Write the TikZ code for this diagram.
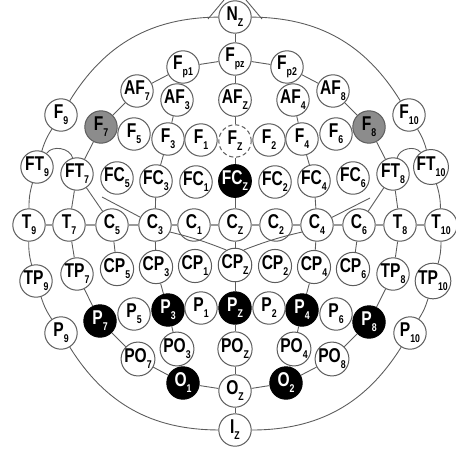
\documentclass[tikz,border=0pt]{standalone}
\usepackage{fontspec,xcolor}
\setmainfont{Liberation Sans}[FakeStretch=0.78]
\definecolor{edge}{HTML}{5C5C5C}
\definecolor{rowline}{HTML}{9A9A9A}
\definecolor{midgrey}{HTML}{8C8C8C}
\newcommand{\elec}{\fontsize{14.2}{15}\selectfont\bfseries}
\newcommand{\elecsub}{\fontsize{8}{9}\selectfont\bfseries}
\newcommand{\low}[1]{\raisebox{-1.5mm}{\elecsub #1}}
\tikzset{
  cell/.style={circle,draw=edge,line width=0.25mm,fill=white,inner sep=0,minimum size=8.1mm,font=\elec,text=black},
  blackcell/.style={cell,draw=black,fill=black,text=white},
  greycell/.style={cell,fill=midgrey},
  dashcell/.style={cell,densely dashed},
  link/.style={draw=edge,line width=0.22mm},
  rowlink/.style={draw=rowline,line width=0.5mm}
}
\begin{document}
\begin{tikzpicture}[x=0.25mm,y=0.25mm]
\useasboundingbox (0,0) rectangle (456,452);
% midline
\node[cell] (Nz) at (235,435) {N\low{Z}};
\node[cell] (Fpz) at (235,393) {F\low{pz}};
\node[cell] (AFz) at (235,352) {AF\low{Z}};
\node[dashcell] (Fz) at (235,311) {F\low{Z}};
\node[blackcell] (FCz) at (235,271) {FC\low{Z}};
\node[cell] (Cz) at (235,227) {C\low{Z}};
\node[cell] (CPz) at (235,187) {CP\low{Z}};
\node[blackcell] (Pz) at (235,144) {P\low{Z}};
\node[cell] (POz) at (235,103) {PO\low{Z}};
\node[cell] (Oz) at (235,61) {O\low{Z}};
\node[cell] (Iz) at (235,22) {I\low{Z}};
% left side
\node[cell] (Fp1) at (183,385) {F\low{p1}};
\node[cell] (AF7) at (137,361) {AF\low{7}};
\node[cell] (AF3) at (177,352) {AF\low{3}};
\node[cell] (F9) at (61,337) {F\low{9}};
\node[greycell] (F7) at (101,325) {F\low{7}};
\node[cell] (F5) at (134,318) {F\low{5}};
\node[cell] (F3) at (168,313) {F\low{3}};
\node[cell] (F1) at (201,312) {F\low{1}};
\node[cell] (FT9) at (37,285) {FT\low{9}};
\node[cell] (FT7) at (77,278) {FT\low{7}};
\node[cell] (FC5) at (117,274) {FC\low{5}};
\node[cell] (FC3) at (156,271) {FC\low{3}};
\node[cell] (FC1) at (196,270) {FC\low{1}};
\node[cell] (T9) at (29,227) {T\low{9}};
\node[cell] (T7) at (69,227) {T\low{7}};
\node[cell] (C5) at (112,227) {C\low{5}};
\node[cell] (C3) at (155,227) {C\low{3}};
\node[cell] (C1) at (194,227) {C\low{1}};
\node[cell] (TP9) at (36,171) {TP\low{9}};
\node[cell] (TP7) at (77,178) {TP\low{7}};
\node[cell] (CP5) at (117,183) {CP\low{5}};
\node[cell] (CP3) at (156,185) {CP\low{3}};
\node[cell] (CP1) at (195,186) {CP\low{1}};
\node[cell] (P9) at (61,119) {P\low{9}};
\node[blackcell] (P7) at (100,131) {P\low{7}};
\node[cell] (P5) at (134,138) {P\low{5}};
\node[blackcell] (P3) at (168,142) {P\low{3}};
\node[cell] (P1) at (201,144) {P\low{1}};
\node[cell] (PO7) at (138,93) {PO\low{7}};
\node[cell] (PO3) at (177,103) {PO\low{3}};
\node[blackcell] (O1) at (183,69) {O\low{1}};
% right side
\node[cell] (Fp2) at (287,385) {F\low{p2}};
\node[cell] (AF8) at (333,361) {AF\low{8}};
\node[cell] (AF4) at (293,352) {AF\low{4}};
\node[cell] (F10) at (409,337) {F\low{10}};
\node[greycell] (F8) at (369,325) {F\low{8}};
\node[cell] (F6) at (336,318) {F\low{6}};
\node[cell] (F4) at (302,313) {F\low{4}};
\node[cell] (F2) at (269,312) {F\low{2}};
\node[cell] (FT10) at (431,285) {FT\low{10}};
\node[cell] (FT8) at (393,278) {FT\low{8}};
\node[cell] (FC6) at (353,274) {FC\low{6}};
\node[cell] (FC4) at (314,271) {FC\low{4}};
\node[cell] (FC2) at (275,270) {FC\low{2}};
\node[cell] (T10) at (441,227) {T\low{10}};
\node[cell] (T8) at (400,227) {T\low{8}};
\node[cell] (C6) at (359,227) {C\low{6}};
\node[cell] (C4) at (317,227) {C\low{4}};
\node[cell] (C2) at (276,227) {C\low{2}};
\node[cell] (TP10) at (433,171) {TP\low{10}};
\node[cell] (TP8) at (393,178) {TP\low{8}};
\node[cell] (CP6) at (353,183) {CP\low{6}};
\node[cell] (CP4) at (314,185) {CP\low{4}};
\node[cell] (CP2) at (275,186) {CP\low{2}};
\node[cell] (P10) at (410,119) {P\low{10}};
\node[blackcell] (P8) at (369,130) {P\low{8}};
\node[cell] (P6) at (336,138) {P\low{6}};
\node[blackcell] (P4) at (302,142) {P\low{4}};
\node[cell] (P2) at (269,144) {P\low{2}};
\node[cell] (PO8) at (332,93) {PO\low{8}};
\node[cell] (PO4) at (294,103) {PO\low{4}};
\node[blackcell] (O2) at (286,69) {O\low{2}};
% free ends
\coordinate (noseL) at (208,433);
\coordinate (noseR) at (262,433);
\coordinate (tipL) at (224,452);
\coordinate (tipR) at (246,452);
\coordinate (stubL) at (102,255);
\coordinate (stubR) at (370,254);
% outer ring
\draw[link] (Nz) to[bend right=29] (F9);
\draw[link] (F9) to[bend right=8] (FT9);
\draw[link] (FT9) to[bend right=8] (T9);
\draw[link] (T9) to[bend right=8] (TP9);
\draw[link] (TP9) to[bend right=8] (P9);
\draw[link] (P9) to[bend right=29] (Iz);
\draw[link] (Iz) to[bend right=29] (P10);
\draw[link] (P10) to[bend right=8] (TP10);
\draw[link] (TP10) to[bend right=8] (T10);
\draw[link] (T10) to[bend right=8] (FT10);
\draw[link] (FT10) to[bend right=8] (F10);
\draw[link] (F10) to[bend right=29] (Nz);
\draw[link] (noseL) -- (tipL);
\draw[link] (noseR) -- (tipR);
% inner ring
\draw[link] (Fpz) -- (Fp1) -- (AF7) -- (F7) -- (FT7) -- (T7) -- (TP7) -- (P7) -- (PO7) -- (O1) -- (Oz);
\draw[link] (Fpz) -- (Fp2) -- (AF8) -- (F8) -- (FT8) -- (T8) -- (TP8) -- (P8) -- (PO8) -- (O2) -- (Oz);
% midline and columns
\draw[link] (Nz) -- (Fpz) -- (AFz) -- (Fz) -- (FCz) -- (Cz) -- (CPz) -- (Pz) -- (POz) -- (Oz) -- (Iz);
\draw[link] (Fp1) -- (AF3) -- (F3) -- (FC3) -- (C3) -- (CP3) -- (P3) -- (PO3) -- (O1);
\draw[link] (Fp2) -- (AF4) -- (F4) -- (FC4) -- (C4) -- (CP4) -- (P4) -- (PO4) -- (O2);
% central row
\draw[rowlink] (T9) -- (T7) -- (C5) -- (C3) -- (C1) -- (Cz) -- (C2) -- (C4) -- (C6) -- (T8) -- (T10);
% short curves
\draw[link] (FT9) to[bend left=65] (FT7);
\draw[link] (FT8) to[bend left=65] (FT10);
\draw[link] (FT7) -- (C5) -- (CP5);
\draw[link] (FT8) -- (C6) -- (CP6);
\draw[link] (stubL) -- (C3);
\draw[link] (stubR) -- (C4);
\draw[link] (C3.-25) to[bend left=4] (CPz.120);
\draw[link] (CPz.60) to[bend left=4] (C4.205);
\end{tikzpicture}
\end{document}
